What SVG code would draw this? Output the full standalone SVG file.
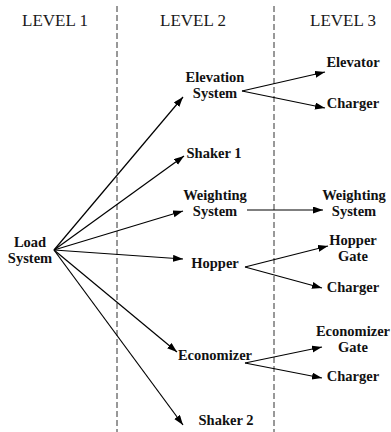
<svg xmlns="http://www.w3.org/2000/svg" width="391" height="432" viewBox="0 0 391 432">
  <style>
    .lvl { font-size: 17px; fill: #1a1a1a; text-anchor: middle; }
    .lbl { font-size: 14.5px; font-weight: bold; fill: #111; text-anchor: middle; }
    .div { stroke: #333; stroke-width: 1; stroke-dasharray: 6 3; fill: none; }
    .edge { stroke: #000; stroke-width: 1.2; fill: none; marker-end: url(#arrow); }
  </style>
  <defs>
    <marker id="arrow" markerUnits="userSpaceOnUse" markerWidth="11" markerHeight="8" refX="10" refY="3.5" orient="auto">
      <path d="M0,0 L10,3.5 L0,7 z" fill="#000"/>
    </marker>
  </defs>
  <rect width="391" height="432" fill="#fff"/>

  <!-- column dividers -->
  <g id="dividers">
    <line class="div" x1="117" y1="6" x2="117" y2="432"/>
    <line class="div" x1="274" y1="6" x2="274" y2="432"/>
  </g>

  <g font-family="'Liberation Serif', 'DejaVu Serif', serif">
  <!-- column headers -->
  <g id="headers">
    <text class="lvl" x="55" y="26">LEVEL 1</text>
    <text class="lvl" x="193" y="26">LEVEL 2</text>
    <text class="lvl" x="343" y="26">LEVEL 3</text>
  </g>
  </g>

  <!-- connectors -->
  <g id="connectors">
    <line class="edge" x1="54" y1="250" x2="183" y2="97"/>
    <line class="edge" x1="54" y1="250" x2="184" y2="156"/>
    <line class="edge" x1="54" y1="250" x2="183" y2="211"/>
    <line class="edge" x1="54" y1="250" x2="183" y2="259"/>
    <line class="edge" x1="54" y1="250" x2="177" y2="352"/>
    <line class="edge" x1="54" y1="250" x2="183" y2="425"/>

    <line class="edge" x1="242" y1="91" x2="325" y2="72"/>
    <line class="edge" x1="242" y1="91" x2="325" y2="108"/>

    <line class="edge" x1="247" y1="210" x2="323" y2="210"/>

    <line class="edge" x1="245" y1="267" x2="328" y2="246"/>
    <line class="edge" x1="245" y1="267" x2="322" y2="288"/>

    <line class="edge" x1="245" y1="363" x2="322" y2="347"/>
    <line class="edge" x1="245" y1="363" x2="322" y2="378"/>
  </g>

  <g font-family="'Liberation Serif', 'DejaVu Serif', serif">
  <!-- level 1 -->
  <g id="load-system">
    <text class="lbl" x="30" y="247">Load</text>
    <text class="lbl" x="30" y="263">System</text>
  </g>

  <!-- level 2 -->
  <g id="elevation-system">
    <text class="lbl" x="215" y="82">Elevation</text>
    <text class="lbl" x="215" y="98">System</text>
  </g>
  <g id="shaker-1">
    <text class="lbl" x="214" y="158">Shaker 1</text>
  </g>
  <g id="weighting-system">
    <text class="lbl" x="215" y="200">Weighting</text>
    <text class="lbl" x="215" y="216">System</text>
  </g>
  <g id="hopper">
    <text class="lbl" x="215" y="268">Hopper</text>
  </g>
  <g id="economizer">
    <text class="lbl" x="215" y="360">Economizer</text>
  </g>
  <g id="shaker-2">
    <text class="lbl" x="226" y="425">Shaker 2</text>
  </g>

  <!-- level 3 -->
  <g id="elevator">
    <text class="lbl" x="353" y="67">Elevator</text>
  </g>
  <g id="charger-1">
    <text class="lbl" x="353" y="108">Charger</text>
  </g>
  <g id="weighting-system-3">
    <text class="lbl" x="354" y="200">Weighting</text>
    <text class="lbl" x="354" y="216">System</text>
  </g>
  <g id="hopper-gate">
    <text class="lbl" x="353" y="245">Hopper</text>
    <text class="lbl" x="353" y="261">Gate</text>
  </g>
  <g id="charger-2">
    <text class="lbl" x="353" y="292">Charger</text>
  </g>
  <g id="economizer-gate">
    <text class="lbl" x="353" y="336">Economizer</text>
    <text class="lbl" x="353" y="352">Gate</text>
  </g>
  <g id="charger-3">
    <text class="lbl" x="353" y="381">Charger</text>
  </g>
  </g>
</svg>
